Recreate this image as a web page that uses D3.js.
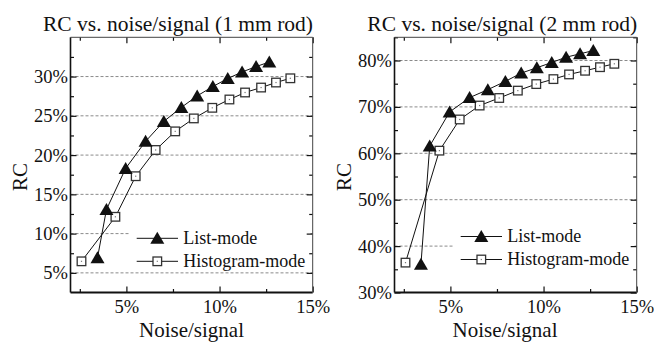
<!DOCTYPE html>
<html><head><meta charset="utf-8">
<script src="https://cdn.jsdelivr.net/npm/d3@7"></script>
<style>body{margin:0;background:#fff}svg{display:block}</style>
</head><body>
<svg id="c" width="654" height="343"></svg>
<script>
// ---- data ----
const titles = ["RC vs. noise/signal (1 mm rod)", "RC vs. noise/signal (2 mm rod)"];
const seriesNames = ["List-mode", "Histogram-mode"];
const xTicks = [5, 10, 15];
const xMinorTicks = [2.5, 7.5, 12.5];
const yTicks1 = [5, 10, 15, 20, 25, 30];
const yMinor1 = [7.5, 12.5, 17.5, 22.5, 27.5, 32.5];
const yTicks2 = [30, 40, 50, 60, 70, 80];
const yMinor2 = [35, 45, 55, 65, 75, 85];

const noise1List = [3.45, 3.93, 4.96, 6.03, 7.01, 7.95, 8.80, 9.64, 10.44, 11.21, 11.96, 12.67];
const rc1List    = [6.94, 13.07, 18.3, 21.75, 24.29, 26.07, 27.54, 28.73, 29.75, 30.58, 31.27, 31.85];
const noise1Hist = [2.59, 4.41, 5.50, 6.57, 7.62, 8.62, 9.61, 10.53, 11.37, 12.23, 13.03, 13.80];
const rc1Hist    = [6.47, 12.14, 17.31, 20.65, 23.02, 24.67, 26.02, 27.08, 27.97, 28.60, 29.24, 29.78];

const noise2List = [3.42, 3.89, 4.96, 6.03, 7.01, 7.95, 8.80, 9.64, 10.44, 11.21, 11.96, 12.67];
const rc2List    = [36.07, 61.57, 68.92, 72.0, 73.72, 75.5, 77.28, 78.44, 79.57, 80.71, 81.44, 82.14];
const noise2Hist = [2.59, 4.41, 5.50, 6.57, 7.62, 8.62, 9.61, 10.53, 11.37, 12.23, 13.03, 13.80];
const rc2Hist    = [36.44, 60.57, 67.29, 70.29, 71.92, 73.51, 74.92, 75.99, 77.0, 77.79, 78.56, 79.29];

const FONT = "Liberation Serif";
const svg = d3.select("#c");

const panels = [
  {ox: 0, title: titles[0], titleX: 178, xLabelX: 191.5, yDomain: [2.5, 35], yTicks: yTicks1, yMinor: yMinor1,
   list: noise1List.map((v, i) => [v, rc1List[i]]), hist: noise1Hist.map((v, i) => [v, rc1Hist[i]]), legY: 238.3},
  {ox: 324, title: titles[1], titleX: 502.3, xLabelX: 505, yDomain: [30, 85], yTicks: yTicks2, yMinor: yMinor2,
   list: noise2List.map((v, i) => [v, rc2List[i]]), hist: noise2Hist.map((v, i) => [v, rc2Hist[i]]), legY: 236.5}
];

const triPath = "M0,-6.5L7,5.5L-7,5.5Z";

panels.forEach(p => {
  const L = p.ox + 70.5, R = p.ox + 312.7, T = 37.3, B = 292.5;
  const x = d3.scaleLinear().domain([2, 15]).range([L, R]);
  const y = d3.scaleLinear().domain(p.yDomain).range([B, T]);
  const g = svg.append("g");

  // gridlines
  g.selectAll(".grid").data(p.yTicks.filter(t => t > p.yDomain[0])).enter().append("line")
    .attr("x1", L).attr("x2", R).attr("y1", d => y(d)).attr("y2", d => y(d))
    .attr("stroke", "#8a8a8a").attr("stroke-width", 1).attr("stroke-dasharray", "3,2");

  // legend background box
  g.append("rect").attr("x", p.ox + 129.5).attr("y", 222).attr("width", 180).attr("height", 49)
    .attr("fill", "#fff");

  // axes
  const fmt = d => d + "%";
  g.append("g").attr("transform", `translate(0,${B})`)
    .call(d3.axisBottom(x).tickValues(xTicks).tickSize(-6).tickPadding(7).tickFormat(fmt));
  g.append("g").attr("transform", `translate(0,${B})`)
    .call(d3.axisBottom(x).tickValues(xMinorTicks).tickSize(-3.5).tickFormat(""));
  g.append("g").attr("transform", `translate(0,${T})`)
    .call(d3.axisTop(x).tickValues(xTicks).tickSize(-6).tickFormat(""));
  g.append("g").attr("transform", `translate(0,${T})`)
    .call(d3.axisTop(x).tickValues(xMinorTicks).tickSize(-3.5).tickFormat(""));
  g.append("g").attr("transform", `translate(${L},0)`)
    .call(d3.axisLeft(y).tickValues(p.yTicks).tickSize(-6).tickPadding(2.5).tickFormat(fmt));
  g.append("g").attr("transform", `translate(${L},0)`)
    .call(d3.axisLeft(y).tickValues(p.yMinor).tickSize(-3.5).tickFormat(""));
  g.append("g").attr("transform", `translate(${R},0)`)
    .call(d3.axisRight(y).tickValues(p.yTicks).tickSize(-6).tickFormat(""));
  g.append("g").attr("transform", `translate(${R},0)`)
    .call(d3.axisRight(y).tickValues(p.yMinor).tickSize(-3.5).tickFormat(""));

  g.selectAll(".domain").attr("stroke", "none");
  g.selectAll(".tick line").attr("stroke", "#111").attr("stroke-width", 1.2);
  g.selectAll(".tick text").attr("font-family", FONT).attr("font-size", 18.5).attr("fill", "#111");

  // frame
  g.append("line").attr("x1", L).attr("x2", R).attr("y1", B).attr("y2", B).attr("stroke", "#111").attr("stroke-width", 2);
  g.append("line").attr("x1", L).attr("x2", L).attr("y1", T).attr("y2", B).attr("stroke", "#111").attr("stroke-width", 1.6);
  g.append("line").attr("x1", L).attr("x2", R).attr("y1", T).attr("y2", T).attr("stroke", "#444").attr("stroke-width", 1);
  g.append("line").attr("x1", R).attr("x2", R).attr("y1", T).attr("y2", B).attr("stroke", "#444").attr("stroke-width", 1);

  // lines
  const line = d3.line().x(d => x(d[0])).y(d => y(d[1]));
  g.append("path").attr("d", line(p.hist)).attr("fill", "none").attr("stroke", "#111").attr("stroke-width", 1);
  g.append("path").attr("d", line(p.list)).attr("fill", "none").attr("stroke", "#111").attr("stroke-width", 1);

  // markers
  const sq = g.selectAll(".sq").data(p.hist).enter().append("g")
    .attr("transform", d => `translate(${x(d[0])},${y(d[1])})`);
  sq.append("rect").attr("x", -4.3).attr("y", -4.3).attr("width", 8.6).attr("height", 8.6)
    .attr("fill", "#fff").attr("stroke", "#333").attr("stroke-width", 1.3);
  sq.append("rect").attr("x", -0.6).attr("y", -0.6).attr("width", 1.2).attr("height", 1.2).attr("fill", "#777");
  g.selectAll(".tri").data(p.list).enter().append("path")
    .attr("transform", d => `translate(${x(d[0])},${y(d[1])})`)
    .attr("d", triPath).attr("fill", "#111");

  // legend
  const lx1 = p.ox + 136.7, lx2 = p.ox + 178, lm = p.ox + 157.3;
  [0, 1].forEach(i => {
    const ly = p.legY + i * 23;
    g.append("line").attr("x1", lx1).attr("x2", lx2).attr("y1", ly).attr("y2", ly).attr("stroke", "#111").attr("stroke-width", 1);
    if (i === 0) {
      g.append("path").attr("transform", `translate(${lm},${ly})`).attr("d", triPath).attr("fill", "#111");
    } else {
      g.append("rect").attr("x", lm - 4.3).attr("y", ly - 4.3).attr("width", 8.6).attr("height", 8.6)
        .attr("fill", "#fff").attr("stroke", "#333").attr("stroke-width", 1.3);
      g.append("rect").attr("x", lm - 0.6).attr("y", ly - 0.6).attr("width", 1.2).attr("height", 1.2).attr("fill", "#777");
    }
    g.append("text").attr("x", p.ox + 183.3).attr("y", ly).attr("dy", "0.33em")
      .attr("font-family", FONT).attr("font-size", 18).attr("fill", "#111").text(seriesNames[i]);
  });

  // titles & labels
  g.append("text").attr("x", p.titleX).attr("y", 31).attr("text-anchor", "middle")
    .attr("font-family", FONT).attr("font-size", 21.5).attr("fill", "#111").text(p.title);
  g.append("text").attr("x", p.xLabelX).attr("y", 337).attr("text-anchor", "middle")
    .attr("font-family", FONT).attr("font-size", 21).attr("fill", "#111").text("Noise/signal");
  g.append("text").attr("transform", `translate(${p.ox + 27},177) rotate(-90)`).attr("text-anchor", "middle")
    .attr("font-family", FONT).attr("font-size", 21).attr("fill", "#111").text("RC");
});
</script>
</body></html>
